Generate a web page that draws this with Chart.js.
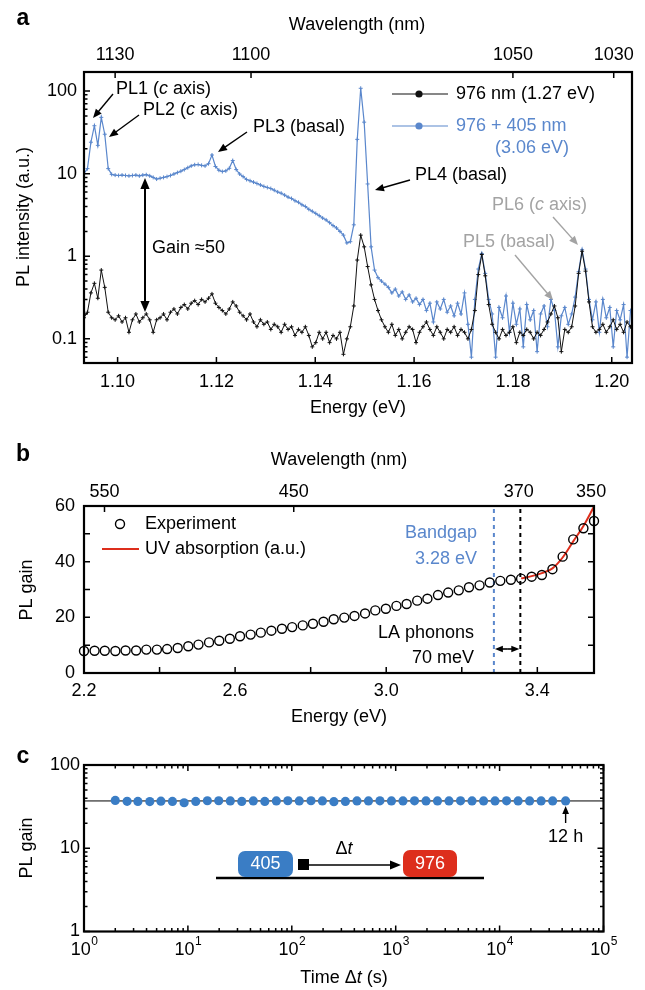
<!DOCTYPE html>
<html>
<head>
<meta charset="utf-8">
<script src="https://cdn.jsdelivr.net/npm/chart.js@4.4.0/dist/chart.umd.min.js"></script>
<style>
  body { margin: 0; background: #fff; width: 645px; height: 990px; position: relative; overflow: hidden; }
  canvas { position: absolute; left: 0; }
</style>
</head>
<body>
<canvas id="chartA" width="645" height="420" style="top:0"></canvas>
<canvas id="chartB" width="645" height="310" style="top:420px"></canvas>
<canvas id="chartC" width="645" height="260" style="top:730px"></canvas>
<script>
// ---------- panel a: PL spectra ----------
const energyA = [
  1.0932, 1.0939, 1.0946, 1.0953, 1.0960, 1.0967, 1.0974, 1.0981, 1.0988, 1.0995,
  1.1002, 1.1009, 1.1016, 1.1023, 1.1030, 1.1037, 1.1044, 1.1051, 1.1058, 1.1065,
  1.1072, 1.1079, 1.1086, 1.1093, 1.1100, 1.1107, 1.1114, 1.1121, 1.1128, 1.1135,
  1.1142, 1.1149, 1.1156, 1.1163, 1.1170, 1.1177, 1.1184, 1.1191, 1.1198, 1.1205,
  1.1212, 1.1219, 1.1226, 1.1233, 1.1240, 1.1247, 1.1254, 1.1261, 1.1268, 1.1275,
  1.1282, 1.1289, 1.1296, 1.1303, 1.1310, 1.1317, 1.1324, 1.1331, 1.1338, 1.1345,
  1.1352, 1.1359, 1.1366, 1.1373, 1.1380, 1.1387, 1.1394, 1.1401, 1.1408, 1.1415,
  1.1422, 1.1429, 1.1436, 1.1443, 1.1450, 1.1457, 1.1464, 1.1471, 1.1478, 1.1485,
  1.1492, 1.1499, 1.1506, 1.1513, 1.1520, 1.1527, 1.1534, 1.1541, 1.1548, 1.1555,
  1.1562, 1.1569, 1.1576, 1.1583, 1.1590, 1.1597, 1.1604, 1.1611, 1.1618, 1.1625,
  1.1632, 1.1639, 1.1646, 1.1653, 1.1660, 1.1667, 1.1674, 1.1681, 1.1688, 1.1695,
  1.1702, 1.1709, 1.1716, 1.1723, 1.1730, 1.1737, 1.1744, 1.1751, 1.1758, 1.1765,
  1.1772, 1.1779, 1.1786, 1.1793, 1.1800, 1.1807, 1.1814, 1.1821, 1.1828, 1.1835,
  1.1842, 1.1849, 1.1856, 1.1863, 1.1870, 1.1877, 1.1884, 1.1891, 1.1898, 1.1905,
  1.1912, 1.1919, 1.1926, 1.1933, 1.1940, 1.1947, 1.1954, 1.1961, 1.1968, 1.1975,
  1.1982, 1.1989, 1.1996, 1.2003, 1.2010, 1.2017, 1.2024, 1.2031, 1.2038
];
// 976 nm only (black)
const pl976 = [
  0.18, 0.21, 0.36, 0.47, 0.31, 0.68, 0.42, 0.21, 0.18, 0.17,
  0.19, 0.16, 0.18, 0.12, 0.17, 0.20, 0.16, 0.18, 0.20, 0.17,
  0.12, 0.17, 0.18, 0.20, 0.17, 0.21, 0.23, 0.20, 0.24, 0.26,
  0.23, 0.27, 0.29, 0.26, 0.30, 0.28, 0.31, 0.35, 0.27, 0.24,
  0.22, 0.20, 0.23, 0.28, 0.25, 0.21, 0.19, 0.17, 0.20, 0.16,
  0.14, 0.17, 0.15, 0.16, 0.13, 0.15, 0.14, 0.12, 0.15, 0.13,
  0.14, 0.11, 0.13, 0.12, 0.14, 0.11, 0.08, 0.09, 0.12, 0.10,
  0.12, 0.09, 0.11, 0.10, 0.12, 0.065, 0.10, 0.14, 0.25, 0.90,
  1.80, 1.30, 0.75, 0.45, 0.30, 0.22, 0.17, 0.14, 0.12, 0.15,
  0.11, 0.13, 0.10, 0.12, 0.14, 0.13, 0.09, 0.12, 0.14, 0.16,
  0.13, 0.11, 0.14, 0.12, 0.10, 0.13, 0.12, 0.14, 0.11, 0.13,
  0.12, 0.10, 0.13, 0.22, 0.60, 1.05, 0.58, 0.26, 0.15, 0.12,
  0.10, 0.13, 0.11, 0.12, 0.14, 0.09, 0.12, 0.11, 0.13, 0.12,
  0.10, 0.12, 0.11, 0.13, 0.16, 0.20, 0.25, 0.18, 0.07, 0.13,
  0.12, 0.14, 0.25, 0.62, 1.15, 0.66, 0.28, 0.14, 0.12, 0.13,
  0.15, 0.12, 0.14, 0.17, 0.13, 0.15, 0.12, 0.16, 0.14
];
// 976 + 405 nm (blue)
const pl976p405 = [
  10.0, 11.5, 24, 38, 22, 48, 30, 11.5, 9.8, 9.6,
  9.5, 9.6, 9.5, 9.4, 9.5, 9.6, 9.4, 9.6, 9.7, 9.4,
  9.0, 8.6, 8.8, 9.0, 9.2, 9.5, 9.9, 10.3, 10.7, 11.2,
  11.8, 12.4, 12.8, 12.9, 12.6, 12.4, 13.2, 16.8, 12.2, 11.0,
  10.6, 10.8, 11.6, 14.4, 11.2, 9.9, 9.2, 8.5, 8.2, 7.9,
  7.6, 7.3, 7.0, 6.8, 6.6, 6.3, 6.0, 5.8, 5.5, 5.2,
  5.0, 4.7, 4.5, 4.2, 4.0, 3.7, 3.5, 3.3, 3.1, 2.9,
  2.75, 2.55, 2.35, 2.2, 2.0, 1.8, 1.45, 1.5, 2.4, 26,
  108, 42, 7.5, 1.3, 0.68, 0.55, 0.50, 0.46, 0.42, 0.36,
  0.40, 0.33, 0.37, 0.30, 0.34, 0.28, 0.31, 0.26, 0.30, 0.22,
  0.27, 0.16, 0.28, 0.23, 0.30, 0.21, 0.25, 0.19, 0.27, 0.20,
  0.36, 0.15, 0.06, 0.30, 0.70, 1.08, 0.62, 0.30, 0.20, 0.06,
  0.24, 0.18, 0.33, 0.12, 0.27, 0.15, 0.23, 0.08, 0.26, 0.17,
  0.22, 0.07, 0.20, 0.25, 0.14, 0.30, 0.22, 0.08, 0.19, 0.24,
  0.15, 0.20, 0.32, 0.65, 1.20, 0.70, 0.30, 0.17, 0.28, 0.12,
  0.30, 0.18, 0.24, 0.08, 0.22, 0.17, 0.26, 0.06, 0.22
];
const energyTicksA = [1.10, 1.12, 1.14, 1.16, 1.18, 1.20];
const wavelengthTicksA = [1130, 1100, 1050, 1030];
const wavelengthTickPosA = [1.0995, 1.1270, 1.1800, 1.2004]; // where the top ticks sit on the energy axis
const intensityTicksA = [0.1, 1, 10, 100];

// ---------- panel b: PL gain vs excitation energy ----------
const energyB = [
  2.200, 2.228, 2.255, 2.283, 2.310, 2.338, 2.365, 2.393, 2.420, 2.448,
  2.476, 2.503, 2.531, 2.558, 2.586, 2.613, 2.641, 2.668, 2.696, 2.724,
  2.751, 2.779, 2.806, 2.834, 2.861, 2.889, 2.916, 2.944, 2.971, 2.999,
  3.027, 3.054, 3.082, 3.109, 3.137, 3.164, 3.192, 3.219, 3.247, 3.274,
  3.302, 3.330, 3.357, 3.385, 3.412, 3.440, 3.467, 3.495, 3.522, 3.550
];
const gainB = [
  7.9, 8.0, 8.0, 7.9, 8.1, 8.1, 8.4, 8.4, 8.6, 9.0,
  9.6, 10.2, 11.0, 11.6, 12.3, 13.2, 13.8, 14.5, 15.2, 15.9,
  16.5, 17.1, 17.7, 18.4, 19.3, 19.9, 20.5, 21.4, 22.5, 23.1,
  24.1, 24.8, 26.0, 26.7, 28.0, 28.9, 29.7, 30.8, 31.5, 32.5,
  33.1, 33.5, 33.9, 34.6, 35.2, 37.3, 41.8, 48.0, 52.0, 54.6
];
const uvEnergy = [3.357, 3.385, 3.412, 3.440, 3.467, 3.495, 3.522, 3.550];
const uvAbs = [34.0, 34.8, 35.9, 37.6, 41.5, 47.3, 52.8, 59.8];
const bandgapEv = 3.285;
const phononEdgeEv = 3.355;
const energyTicksB = [2.2, 2.6, 3.0, 3.4];
const wavelengthTicksB = [550, 450, 370, 350];
const gainTicksB = [0, 20, 40, 60];

// ---------- panel c: PL gain vs delay ----------
const delayC = [
  2.0, 2.6, 3.3, 4.3, 5.5, 7.1, 9.2, 11.9, 15.4, 19.8,
  25.6, 33.0, 42.6, 55.0, 71.0, 91.6, 118, 153, 197, 254,
  328, 424, 547, 705, 910, 1175, 1517, 1958, 2525, 3260,
  4207, 5430, 7010, 9040, 11670, 15070, 19450, 25100, 32400, 43200
];
const gainC = [
  37.5, 36.6, 36.5, 36.4, 36.8, 36.5, 35.2, 36.5, 37.2, 37.2,
  37.0, 36.5, 37.0, 36.5, 37.0, 37.2, 37.0, 37.2, 37.0, 36.3,
  36.5, 37.0, 37.0, 37.1, 37.0, 37.0, 37.1, 37.0, 37.0, 37.0,
  37.1, 37.0, 37.0, 37.0, 37.1, 37.0, 37.0, 37.0, 37.0, 37.0
];
const meanGainC = 37;
const decadeTicksC = [1, 10, 100, 1000, 10000, 100000];
const gainTicksC = [1, 10, 100];

const FAMILY = '"Liberation Sans", Arial, Helvetica, sans-serif';
const BLUE = '#5a87cc';
const DOT_BLUE = '#3a7dc5';
const RED = '#dd2e1c';
const GREY = '#a3a3a3';

const tickFont = { family: FAMILY, size: 18 };

function txt(ctx, s, x, y, o = {}) {
  ctx.save();
  ctx.font = (o.style || '') + ' ' + (o.size || 18) + 'px ' + FAMILY;
  ctx.fillStyle = o.color || '#000';
  ctx.textAlign = o.align || 'left';
  ctx.textBaseline = 'middle';
  if (o.rotate) { ctx.translate(x, y); ctx.rotate(o.rotate); ctx.fillText(s, 0, 0); }
  else ctx.fillText(s, x, y);
  ctx.restore();
}

// parts: [text, italic]
function rich(ctx, parts, x, y, o = {}) {
  ctx.save();
  const size = o.size || 18;
  const fonts = parts.map(p => (p[1] ? 'italic ' : '') + size + 'px ' + FAMILY);
  let w = 0;
  const ws = parts.map((p, i) => { ctx.font = fonts[i]; const m = ctx.measureText(p[0]).width; w += m; return m; });
  let cx = o.align === 'center' ? x - w / 2 : (o.align === 'right' ? x - w : x);
  ctx.fillStyle = o.color || '#000';
  ctx.textBaseline = 'middle';
  ctx.textAlign = 'left';
  parts.forEach((p, i) => { ctx.font = fonts[i]; ctx.fillText(p[0], cx, y); cx += ws[i]; });
  ctx.restore();
}

function arrow(ctx, x1, y1, x2, y2, color, lw, head) {
  const a = Math.atan2(y2 - y1, x2 - x1), h = head || 9, hw = h * 0.42;
  ctx.save();
  ctx.strokeStyle = color; ctx.fillStyle = color; ctx.lineWidth = lw || 1.4;
  ctx.beginPath(); ctx.moveTo(x1, y1); ctx.lineTo(x2 - h * 0.8 * Math.cos(a), y2 - h * 0.8 * Math.sin(a)); ctx.stroke();
  ctx.beginPath(); ctx.moveTo(x2, y2);
  ctx.lineTo(x2 - h * Math.cos(a) + hw * Math.sin(a), y2 - h * Math.sin(a) - hw * Math.cos(a));
  ctx.lineTo(x2 - h * Math.cos(a) - hw * Math.sin(a), y2 - h * Math.sin(a) + hw * Math.cos(a));
  ctx.closePath(); ctx.fill();
  ctx.restore();
}

function tickMarks(ctx, chart, id, values, len, sides) {
  const a = chart.chartArea, s = chart.scales[id];
  ctx.save();
  ctx.strokeStyle = '#000'; ctx.lineWidth = 1.5;
  ctx.beginPath();
  values.forEach(v => {
    const p = s.getPixelForValue(v);
    if (s.isHorizontal()) {
      if (sides.includes('b')) { ctx.moveTo(p, a.bottom); ctx.lineTo(p, a.bottom - len); }
      if (sides.includes('t')) { ctx.moveTo(p, a.top); ctx.lineTo(p, a.top + len); }
    } else {
      if (sides.includes('l')) { ctx.moveTo(a.left, p); ctx.lineTo(a.left + len, p); }
      if (sides.includes('r')) { ctx.moveTo(a.right, p); ctx.lineTo(a.right - len, p); }
    }
  });
  ctx.stroke();
  ctx.restore();
}

function frame(ctx, chart) {
  const a = chart.chartArea;
  ctx.save();
  ctx.lineWidth = 2.2; ctx.strokeStyle = '#000';
  ctx.strokeRect(a.left, a.top, a.right - a.left, a.bottom - a.top);
  ctx.restore();
}

function logMinor(lo, hi) {
  const out = [];
  for (let d = lo; d < hi; d *= 10) for (let m = 2; m <= 9; m++) out.push(d * m);
  return out;
}

function hiddenGrid() { return { display: false, drawTicks: false }; }

// ---------------- chart a ----------------
new Chart(document.getElementById('chartA'), {
  type: 'scatter',
  data: {
    datasets: [
      {
        label: '976 nm (1.27 eV)',
        data: energyA.map((e, i) => ({ x: e, y: pl976[i] })),
        showLine: true, borderColor: '#111', borderWidth: 1,
        pointStyle: 'cross', pointRadius: 2, pointBorderWidth: 1, pointBorderColor: '#111', order: 1
      },
      {
        label: '976 + 405 nm',
        data: energyA.map((e, i) => ({ x: e, y: pl976p405[i] })),
        showLine: true, borderColor: BLUE, borderWidth: 1.2,
        pointStyle: 'cross', pointRadius: 2, pointBorderWidth: 1, pointBorderColor: BLUE, order: 2
      }
    ]
  },
  options: {
    responsive: false, animation: false,
    layout: { padding: { left: 0, right: 13, top: 0, bottom: 0 } },
    plugins: { legend: { display: false }, tooltip: { enabled: false } },
    scales: {
      x: {
        type: 'linear', position: 'bottom', min: 1.0932, max: 1.2041,
        grid: hiddenGrid(), border: { display: false },
        afterBuildTicks: s => { s.ticks = energyTicksA.map(v => ({ value: v })); },
        afterFit: s => { s.height = 57; },
        ticks: { font: tickFont, color: '#000', padding: 8, maxRotation: 0, autoSkip: false, callback: v => v.toFixed(2) }
      },
      xTop: {
        axis: 'x', type: 'linear', position: 'top', min: 1.0932, max: 1.2041,
        grid: hiddenGrid(), border: { display: false },
        afterBuildTicks: s => { s.ticks = wavelengthTickPosA.map(v => ({ value: v })); },
        afterFit: s => { s.height = 72; },
        ticks: {
          font: tickFont, color: '#000', padding: 6, maxRotation: 0, autoSkip: false,
          callback: (v, i) => String(wavelengthTicksA[i])
        }
      },
      y: {
        type: 'logarithmic', min: 0.051, max: 170,
        grid: hiddenGrid(), border: { display: false },
        afterBuildTicks: s => { s.ticks = intensityTicksA.map(v => ({ value: v })); },
        afterFit: s => { s.width = 84; },
        ticks: { font: tickFont, color: '#000', padding: 7, callback: v => String(v) }
      }
    }
  },
  plugins: [{
    id: 'decorA',
    afterDraw(chart) {
      const ctx = chart.ctx;
      frame(ctx, chart);
      tickMarks(ctx, chart, 'x', energyTicksA, 6, 'b');
      tickMarks(ctx, chart, 'xTop', wavelengthTickPosA, 6, 't');
      tickMarks(ctx, chart, 'y', intensityTicksA, 6, 'l');
      tickMarks(ctx, chart, 'y', logMinor(0.01, 100).filter(v => v > 0.051 && v < 170), 3.5, 'l');

      txt(ctx, 'a', 23, 19, { size: 23, style: 'bold', align: 'center' });
      txt(ctx, 'Wavelength (nm)', 357, 25, { align: 'center' });
      txt(ctx, 'Energy (eV)', 358, 408, { align: 'center' });
      txt(ctx, 'PL intensity (a.u.)', 24, 217, { align: 'center', rotate: -Math.PI / 2 });

      // legend
      ctx.save();
      ctx.lineWidth = 1.2;
      ctx.strokeStyle = '#111'; ctx.beginPath(); ctx.moveTo(392, 94); ctx.lineTo(448, 94); ctx.stroke();
      ctx.fillStyle = '#111'; ctx.beginPath(); ctx.arc(419, 94, 3.6, 0, 2 * Math.PI); ctx.fill();
      ctx.strokeStyle = BLUE; ctx.beginPath(); ctx.moveTo(392, 126); ctx.lineTo(448, 126); ctx.stroke();
      ctx.fillStyle = BLUE; ctx.beginPath(); ctx.arc(419, 126, 3.6, 0, 2 * Math.PI); ctx.fill();
      ctx.restore();
      txt(ctx, '976 nm (1.27 eV)', 456, 94);
      txt(ctx, '976 + 405 nm', 456, 126, { color: BLUE });
      txt(ctx, '(3.06 eV)', 495, 148, { color: BLUE });

      // peak labels
      rich(ctx, [['PL1 ('], ['c', true], [' axis)']], 116, 89);
      arrow(ctx, 113, 94, 93, 118, '#000');
      rich(ctx, [['PL2 ('], ['c', true], [' axis)']], 143, 110);
      arrow(ctx, 139, 115, 109, 137, '#000');
      txt(ctx, 'PL3 (basal)', 253, 127);
      arrow(ctx, 247, 132, 218, 152, '#000');
      txt(ctx, 'PL4 (basal)', 415, 175);
      arrow(ctx, 410, 180, 375, 190, '#000');
      rich(ctx, [['PL6 ('], ['c', true], [' axis)']], 492, 205, { color: GREY });
      arrow(ctx, 553, 217, 578, 245, GREY);
      txt(ctx, 'PL5 (basal)', 463, 242, { color: GREY });
      arrow(ctx, 515, 255, 553, 300, GREY);

      // gain double arrow
      arrow(ctx, 145, 245, 145, 178, '#000', 2, 11);
      arrow(ctx, 145, 245, 145, 312, '#000', 2, 11);
      txt(ctx, 'Gain \u224850', 152, 248);
    }
  }]
});

// ---------------- chart b ----------------
new Chart(document.getElementById('chartB'), {
  type: 'scatter',
  data: {
    datasets: [
      {
        label: 'Experiment',
        data: energyB.map((e, i) => ({ x: e, y: gainB[i] })),
        pointStyle: 'circle', pointRadius: 4.5, pointBorderWidth: 1.4,
        pointBorderColor: '#000', pointBackgroundColor: 'rgba(255,255,255,0)', clip: false, order: 1
      },
      {
        label: 'UV absorption (a.u.)',
        data: uvEnergy.map((e, i) => ({ x: e, y: uvAbs[i] })),
        showLine: true, borderColor: RED, borderWidth: 2, pointRadius: 0, cubicInterpolationMode: 'monotone', order: 2
      },
      {
        label: 'Bandgap',
        data: [{ x: bandgapEv, y: gainTicksB[0] }, { x: bandgapEv, y: gainTicksB[3] }],
        showLine: true, borderColor: BLUE, borderWidth: 2, borderDash: [4, 4], pointRadius: 0, order: 3
      },
      {
        label: 'LA edge',
        data: [{ x: phononEdgeEv, y: gainTicksB[0] }, { x: phononEdgeEv, y: gainTicksB[3] }],
        showLine: true, borderColor: '#000', borderWidth: 2, borderDash: [4, 4], pointRadius: 0, order: 3
      }
    ]
  },
  options: {
    responsive: false, animation: false,
    layout: { padding: { left: 0, right: 51, top: 0, bottom: 0 } },
    plugins: { legend: { display: false }, tooltip: { enabled: false } },
    scales: {
      x: {
        type: 'linear', position: 'bottom', min: 2.2, max: 3.55,
        grid: hiddenGrid(), border: { display: false },
        afterBuildTicks: s => { s.ticks = energyTicksB.map(v => ({ value: v })); },
        afterFit: s => { s.height = 57; },
        ticks: { font: tickFont, color: '#000', padding: 7, maxRotation: 0, autoSkip: false, callback: v => v.toFixed(1) }
      },
      xTop: {
        axis: 'x', type: 'linear', position: 'top', min: 2.2, max: 3.55,
        grid: hiddenGrid(), border: { display: false },
        afterBuildTicks: s => { s.ticks = wavelengthTicksB.map(w => ({ value: 1239.84 / w })); },
        afterFit: s => { s.height = 86; },
        ticks: {
          font: tickFont, color: '#000', padding: 3, maxRotation: 0, autoSkip: false,
          callback: (v, i) => String(wavelengthTicksB[i])
        }
      },
      y: {
        type: 'linear', min: 0, max: 60,
        grid: hiddenGrid(), border: { display: false },
        afterBuildTicks: s => { s.ticks = gainTicksB.map(v => ({ value: v })); },
        afterFit: s => { s.width = 84; },
        ticks: { font: tickFont, color: '#000', padding: 9 }
      }
    }
  },
  plugins: [{
    id: 'decorB',
    afterDraw(chart) {
      const ctx = chart.ctx;
      frame(ctx, chart);
      tickMarks(ctx, chart, 'x', [2.4, 2.6, 2.8, 3.0, 3.2, 3.4], 6, 'b');
      tickMarks(ctx, chart, 'xTop', wavelengthTicksB.slice(0, 2).map(w => 1239.84 / w), 6, 't');
      tickMarks(ctx, chart, 'y', [10, 20, 30, 40, 50], 6, 'lr');

      txt(ctx, 'b', 23, 35, { size: 23, style: 'bold', align: 'center' });
      txt(ctx, 'Wavelength (nm)', 339, 40, { align: 'center' });
      txt(ctx, 'Energy (eV)', 339, 297, { align: 'center' });
      txt(ctx, 'PL gain', 27, 170, { align: 'center', rotate: -Math.PI / 2 });

      // legend
      ctx.save();
      ctx.strokeStyle = '#000'; ctx.lineWidth = 1.4;
      ctx.beginPath(); ctx.arc(120, 104, 4.5, 0, 2 * Math.PI); ctx.stroke();
      ctx.strokeStyle = RED; ctx.lineWidth = 2;
      ctx.beginPath(); ctx.moveTo(102, 129); ctx.lineTo(139, 129); ctx.stroke();
      ctx.restore();
      txt(ctx, 'Experiment', 145, 104);
      txt(ctx, 'UV absorption (a.u.)', 145, 129);

      txt(ctx, 'Bandgap', 477, 113, { color: BLUE, align: 'right' });
      txt(ctx, '3.28 eV', 477, 139, { color: BLUE, align: 'right' });
      txt(ctx, 'LA phonons', 474, 213, { align: 'right' });
      txt(ctx, '70 meV', 474, 238, { align: 'right' });

      const xs = chart.scales.x;
      const x1 = xs.getPixelForValue(bandgapEv), x2 = xs.getPixelForValue(phononEdgeEv);
      const mid = (x1 + x2) / 2;
      arrow(ctx, mid, 229, x1 + 1, 229, '#000', 1.6, 8);
      arrow(ctx, mid, 229, x2 - 1, 229, '#000', 1.6, 8);
    }
  }]
});

// ---------------- chart c ----------------
new Chart(document.getElementById('chartC'), {
  type: 'scatter',
  data: {
    datasets: [
      {
        label: 'PL gain',
        data: delayC.map((t, i) => ({ x: t, y: gainC[i] })),
        pointStyle: 'circle', pointRadius: 4.6, pointBorderWidth: 0,
        pointBackgroundColor: DOT_BLUE, order: 1
      },
      {
        label: 'mean',
        data: [{ x: decadeTicksC[0], y: meanGainC }, { x: decadeTicksC[5], y: meanGainC }],
        showLine: true, borderColor: '#000', borderWidth: 1, pointRadius: 0, order: 2
      }
    ]
  },
  options: {
    responsive: false, animation: false,
    layout: { padding: { left: 0, right: 41.5, top: 0, bottom: 0 } },
    plugins: { legend: { display: false }, tooltip: { enabled: false } },
    scales: {
      x: {
        type: 'logarithmic', position: 'bottom', min: 1, max: 100000,
        grid: hiddenGrid(), border: { display: false },
        afterFit: s => { s.height = 58.5; },
        ticks: { display: false }
      },
      xTop: {
        axis: 'x', type: 'logarithmic', position: 'top', min: 1, max: 100000,
        grid: hiddenGrid(), border: { display: false },
        afterFit: s => { s.height = 35; },
        ticks: { display: false }
      },
      y: {
        type: 'logarithmic', min: 1, max: 100,
        grid: hiddenGrid(), border: { display: false },
        afterBuildTicks: s => { s.ticks = gainTicksC.map(v => ({ value: v })); },
        afterFit: s => { s.width = 84; },
        ticks: { font: tickFont, color: '#000', padding: 4, callback: v => String(v) }
      }
    }
  },
  plugins: [{
    id: 'decorC',
    afterDraw(chart) {
      const ctx = chart.ctx;
      frame(ctx, chart);
      tickMarks(ctx, chart, 'x', decadeTicksC, 6, 'bt');
      tickMarks(ctx, chart, 'x', logMinor(1, 100000), 3.5, 'bt');
      tickMarks(ctx, chart, 'y', gainTicksC, 6, 'lr');
      tickMarks(ctx, chart, 'y', logMinor(1, 100), 3.5, 'lr');

      // 10^n labels
      const xs = chart.scales.x;
      decadeTicksC.forEach((v, n) => {
        const p = xs.getPixelForValue(v);
        ctx.save();
        ctx.font = '18px ' + FAMILY;
        const w1 = ctx.measureText('10').width;
        ctx.font = '12px ' + FAMILY;
        const w2 = ctx.measureText(String(n)).width;
        const left = p - (w1 + w2) / 2;
        ctx.restore();
        txt(ctx, '10', left, 220);
        txt(ctx, String(n), left + w1 + 0.5, 212, { size: 12 });
      });

      txt(ctx, 'c', 23, 27, { size: 23, style: 'bold', align: 'center' });
      txt(ctx, 'PL gain', 27, 118, { align: 'center', rotate: -Math.PI / 2 });
      rich(ctx, [['Time \u0394'], ['t', true], [' (s)']], 344, 248, { align: 'center' });

      // 12 h marker
      const lastX = xs.getPixelForValue(delayC[delayC.length - 1]);
      arrow(ctx, lastX, 93, lastX, 76, '#000', 1.4, 8);
      txt(ctx, '12 h', lastX, 107, { align: 'center' });

      // pump-probe sketch
      ctx.save();
      ctx.strokeStyle = '#000'; ctx.lineWidth = 2.5;
      ctx.beginPath(); ctx.moveTo(216, 148); ctx.lineTo(484, 148); ctx.stroke();
      ctx.fillStyle = DOT_BLUE;
      ctx.beginPath(); ctx.roundRect(238, 121, 55, 26, 7); ctx.fill();
      ctx.fillStyle = RED;
      ctx.beginPath(); ctx.roundRect(403, 120, 54, 27, 7); ctx.fill();
      ctx.fillStyle = '#000';
      ctx.fillRect(298, 129, 11, 11);
      ctx.restore();
      arrow(ctx, 309, 135, 401, 135, '#000', 1.6, 11);
      txt(ctx, '405', 265.5, 134, { color: '#fff', align: 'center' });
      txt(ctx, '976', 430, 134, { color: '#fff', align: 'center' });
      rich(ctx, [['\u0394'], ['t', true]], 344, 119, { align: 'center' });
    }
  }]
});
</script>
</body>
</html>
